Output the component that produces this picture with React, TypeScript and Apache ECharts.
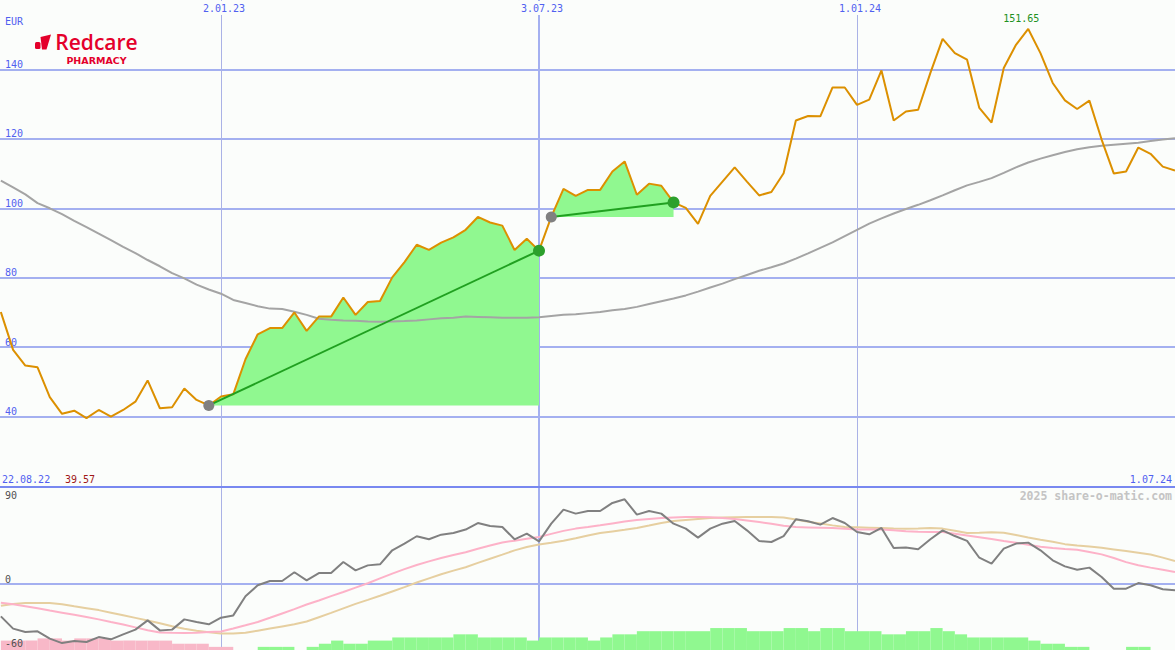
import React, { useEffect, useRef } from 'react';
import * as echarts from 'echarts';

// ---------- data (weekly, first value = 29.08.22, last = 1.07.24) ----------
const firstWeek = '2022-08-29';

const price = [
  70.1, 59.2, 54.7, 54.2, 45.6, 40.8, 41.7, 39.57, 41.9, 40.0, 41.9, 44.3, 50.4, 42.4, 42.7, 48.1, 44.8, 43.2,
  45.8, 46.4, 56.5, 63.7, 65.5, 65.5, 70.0, 64.7, 68.8, 68.8,
  74.3, 69.3, 73.0, 73.3, 80.1, 84.5, 89.5, 88.0, 90.1, 91.6,
  93.8, 97.5, 95.9, 95.0, 88.0, 91.2, 87.8, 97.5, 105.6, 103.6,
  105.3, 105.3, 110.6, 113.5, 103.9, 107.1, 106.5, 101.7, 100.1, 95.5,
  103.6, 107.7, 111.8, 107.7, 103.7, 104.7, 110.1, 125.3, 126.6, 126.5,
  134.8, 134.8, 129.8, 131.3, 139.7, 125.3, 127.9, 128.4, 139.0, 148.8,
  144.7, 142.8, 128.9, 124.7, 140.4, 147.1, 151.65, 144.7, 136.1, 131.1,
  128.6, 131.0, 119.8, 110.0, 110.6, 117.5, 115.7, 112.0, 110.9,
];

const movingAvg = [
  108, 106, 104, 101.5, 100, 98.3, 96.4, 94.6, 92.7, 90.8, 88.9, 87.1, 85.1, 83.3, 81.3, 79.8, 78.0, 76.6,
  75.4, 73.6, 72.7, 71.8, 71.1, 71.0, 70.2, 69.3, 68.2, 67.9,
  67.7, 67.6, 67.4, 67.3, 67.4, 67.5, 67.7, 68.0, 68.3, 68.5,
  68.8, 68.7, 68.6, 68.5, 68.5, 68.5, 68.6, 69.0, 69.3, 69.5,
  69.8, 70.1, 70.6, 71.0, 71.6, 72.4, 73.2, 74.0, 74.9, 76.0,
  77.2, 78.3, 79.6, 80.8, 82.0, 83.0, 84.1, 85.5, 87.0, 88.6,
  90.2, 92.0, 93.8, 95.6, 97.1, 98.5, 99.8, 101.0, 102.3, 103.7,
  105.2, 106.6, 107.6, 108.7, 110.2, 111.8, 113.2, 114.3, 115.3, 116.2,
  117.0, 117.6, 118.0, 118.3, 118.6, 118.9, 119.4, 119.8, 120.2,
];

const oscGray = [
  -30, -41.4, -44.5, -43.9, -50.7, -54.8, -52.9, -53.8, -49.2, -51.3, -46.7, -42.3, -33.7, -43, -42.3, -32.8, -35.3, -37.4,
  -31.2, -29.1, -11.4, -1.2, 2.8, 2.8, 10.9, 3.4, 10.2, 10.2,
  20.4, 12.7, 17.3, 18.3, 31.3, 37.5, 44.3, 41.5, 45.8, 47.3,
  50.5, 56.6, 53.8, 52.9, 41.5, 46.8, 39.6, 56.0, 69.0, 65.3,
  67.7, 67.7, 75.2, 78.6, 64.4, 67.7, 65.3, 56.0, 51.4, 43.0,
  51.4, 56.0, 58.4, 49.8, 39.9, 39.0, 44.5, 60.0, 58.2, 55.1,
  61.2, 56.6, 48.2, 46.1, 52.0, 33.4, 33.8, 32.2, 41.5, 49.8,
  44.5, 40.0, 24.4, 18.9, 32.8, 37.5, 38.4, 31.3, 22.0, 16.4,
  13.3, 15.2, 6.5, -4.3, -4.3, 0.9, -1.2, -4.9, -5.8,
];

const oscPink = [
  -17.3, -18.8, -20.6, -22.5, -24.6, -26.6, -28.6, -30.6, -32.8, -35.3, -37.6, -40.2, -42.8, -45.0, -45.3, -45.4, -45.2, -44.6,
  -44.0, -41.3, -38.3, -35.2, -31.3, -27.3, -23.3, -19.0, -15.3, -11.2,
  -7.4, -3.3, 0.7, 5.2, 9.7, 13.8, 17.6, 21.0, 24.2, 27.0,
  29.5, 32.7, 35.8, 38.6, 40.2, 42.0, 43.6, 46.5, 49.3, 51.4,
  52.9, 54.5, 56.2, 57.9, 59.3, 60.3, 61.3, 61.8, 62.1, 62.2,
  61.9, 61.2, 60.4, 59.0, 57.5, 56.0, 54.0, 52.8, 52.5, 52.2,
  51.9, 51.3, 50.5, 50.5, 50.5, 49.8, 48.9, 48.5, 48.3, 48.2,
  46.7, 45.1, 43.4, 41.7, 39.9, 38.2, 36.4, 34.6, 33.5, 32.5,
  31.7, 29.8, 27.5, 24.2, 20.3, 17.4, 15.2, 13.2, 11.2,
];

const oscTan = [
  -20.2, -18.5, -17.6, -17.6, -17.6, -18.8, -20.7, -22.4, -24.2, -26.6, -29.0, -31.4, -33.9, -36.4, -39.1, -41.5, -43.3, -44.8,
  -46.0, -45.8, -45.3, -43.3, -41.3, -39.3, -37.3, -34.8, -30.8, -26.8,
  -22.6, -18.4, -14.7, -10.9, -6.9, -2.9, 1.4, 5.2, 9.0, 12.4,
  15.6, 19.6, 23.5, 27.3, 31.2, 34.3, 36.6, 38.3, 40.1, 42.4,
  45.0, 47.3, 48.8, 50.3, 51.9, 54.2, 56.6, 58.4, 59.5, 60.4,
  61.3, 61.8, 62.0, 62.1, 62.2, 62.2, 61.7, 59.8, 57.8, 56.1,
  54.4, 52.8, 52.6, 52.3, 52.0, 51.6, 51.3, 51.5, 52.0, 51.4,
  49.5, 47.3, 47.6, 48.0, 47.6, 45.4, 43.2, 41.1, 39.3, 37.0,
  35.8, 34.7, 33.6, 32.1, 30.6, 29.1, 27.4, 24.5, 21.4,
];

// weekly histogram (negative = pink, positive = green), one bar per week after each date
const histogram = [
  -3, -3, -3, -3.7, -3.7, -3, -3.7, -3.7, -3.7, -3, -3, -3, -3, -3, -2, -2, -2, -1,
  -1, 0, 0, 1, 1, 1, 0, 1, 2, 3,
  2, 2, 3, 3, 4, 4, 4, 4, 4, 5,
  5, 4, 4, 4, 4, 3, 4, 4, 4, 4,
  3, 4, 5, 5, 6, 6, 6, 6, 6, 6,
  7, 7, 7, 6, 6, 6, 7, 7, 6, 7,
  7, 6, 6, 6, 5, 5, 6, 6, 7, 6,
  5, 4, 4, 4, 4, 4, 3, 2, 2, 1,
  1, 0, 0, 0, 1, 1, 0, 0, 0,
];

// trend segments (start date, end date)
const trendSegments = [
  ['2022-12-26', '2023-07-03'],
  ['2023-07-10', '2023-09-18'],
];

const dateTicks = ['2023-01-02', '2023-07-03', '2024-01-01'];
const thinDateLines = ['2023-01-02', '2024-01-01'];
const thickDateLines = ['2023-07-03'];
const priceTicks = [40, 60, 80, 100, 120, 140];
const oscTicks = [-60, 0];
const oscZeroLine = [0];
const oscTopTick = [90];
const rangeStartLabel = '22.08.22';
const rangeEndLabel = '1.07.24';
const minLabel = '39.57';
const watermark = '2025 share-o-matic.com';

// ---------- helpers ----------
const DAY = 86400000;
const ts = (s: string) => Date.parse(s + 'T00:00:00Z');
const dates = price.map((_, i) => ts(firstWeek) + i * 7 * DAY);
const idxOf = (s: string) => dates.indexOf(ts(s));
const fmtDate = (v: number) => {
  const d = new Date(v);
  return `${d.getUTCDate()}.${String(d.getUTCMonth() + 1).padStart(2, '0')}.${String(d.getUTCFullYear()).slice(2)}`;
};

const BG = '#fbfdfb';
const BLUE_TXT = '#5060f0';
const GRID_LINE = '#a4b0f0';
const THIN_LINE = '#aab2e6';
const DIVIDER = '#7888f0';
const RED = '#e4002b';
const MONO = '"DejaVu Sans Mono", "Liberation Mono", monospace';

const X_MIN = Date.UTC(2022, 7, 28, 12);
const X_MAX = Date.UTC(2024, 6, 1);
const OSC_MIN = -61.2;
const OSC_MAX = 90;

export default function App() {
  const ref = useRef<HTMLDivElement>(null);

  useEffect(() => {
    if (!ref.current) return;
    const chart = echarts.init(ref.current, null, { renderer: 'svg' });

    const pair = (arr: number[]) => arr.map((v, i) => [dates[i], v]);

    const baseX: any = {
      type: 'value',
      min: X_MIN,
      max: X_MAX,
      axisLine: { show: false, onZero: false },
      axisTick: { show: false },
      axisLabel: { show: false },
      splitLine: { show: false },
    };

    const oscAxis = (extra: any) => ({
      gridIndex: 1,
      type: 'value',
      position: 'left',
      min: OSC_MIN,
      max: OSC_MAX,
      axisLine: { show: false },
      splitLine: { show: false },
      ...extra,
    });

    const oscLabel = (values: number[], align: string, pad: number[]) => ({
      inside: true,
      customValues: values,
      verticalAlign: align,
      padding: pad,
      margin: 5,
      color: '#505050',
      fontFamily: MONO,
      fontSize: 10,
    });

    const fills = trendSegments.map(([a, b]) => {
      const i0 = idxOf(a);
      const i1 = idxOf(b);
      return {
        type: 'line',
        xAxisIndex: 0,
        yAxisIndex: 0,
        data: pair(price).slice(i0, i1 + 1),
        showSymbol: false,
        silent: true,
        lineStyle: { width: 0 },
        areaStyle: { color: '#90f890', opacity: 1, origin: price[i0] },
        z: 2,
      };
    });

    const trends = trendSegments.map(([a, b]) => {
      const i0 = idxOf(a);
      const i1 = idxOf(b);
      return {
        type: 'line',
        xAxisIndex: 0,
        yAxisIndex: 0,
        silent: true,
        symbol: 'circle',
        showSymbol: true,
        lineStyle: { color: '#20a020', width: 2 },
        data: [
          { value: [dates[i0], price[i0]], symbolSize: 11, itemStyle: { color: '#808080' } },
          { value: [dates[i1], price[i1]], symbolSize: 12, itemStyle: { color: '#2ca02c' } },
        ],
        z: 6,
      };
    });

    const option: any = {
      animation: false,
      backgroundColor: BG,
      grid: [
        { left: 0, right: 0, top: 0, height: 486, outerBoundsMode: 'none' },
        { left: 0, right: 0, top: 487, height: 163, outerBoundsMode: 'none' },
      ],
      xAxis: [
        {
          ...baseX,
          gridIndex: 0,
          position: 'top',
          axisTick: { show: false, customValues: thinDateLines.map(ts) },
          axisLabel: {
            show: true,
            inside: true,
            customValues: dateTicks.map(ts),
            formatter: (v: number) => fmtDate(v),
            color: BLUE_TXT,
            fontFamily: MONO,
            fontSize: 10,
            margin: 1,
            backgroundColor: BG,
            padding: [2, 1, 2, 7],
          },
          splitLine: { show: true, lineStyle: { color: THIN_LINE, width: 1 } },
        },
        {
          ...baseX,
          gridIndex: 0,
          position: 'bottom',
          axisTick: { show: false, customValues: thickDateLines.map(ts) },
          splitLine: { show: true, lineStyle: { color: GRID_LINE, width: 2 } },
        },
        {
          ...baseX,
          gridIndex: 1,
          position: 'top',
          axisLine: { show: true, onZero: false, lineStyle: { color: DIVIDER, width: 2 } },
          axisTick: { show: false, customValues: thinDateLines.map(ts) },
          splitLine: { show: true, lineStyle: { color: THIN_LINE, width: 1 } },
        },
        {
          ...baseX,
          gridIndex: 1,
          position: 'bottom',
          axisTick: { show: false, customValues: thickDateLines.map(ts) },
          splitLine: { show: true, lineStyle: { color: GRID_LINE, width: 2 } },
        },
      ],
      yAxis: [
        {
          gridIndex: 0,
          type: 'value',
          position: 'left',
          min: 20,
          max: 160,
          interval: 20,
          axisLine: { show: false },
          axisTick: { show: false, customValues: priceTicks },
          axisLabel: {
            inside: true,
            customValues: priceTicks,
            verticalAlign: 'bottom',
            margin: 5,
            color: BLUE_TXT,
            fontFamily: MONO,
            fontSize: 10,
          },
          splitLine: { show: true, lineStyle: { color: GRID_LINE, width: 2 } },
        },
        // zero line of the oscillator panel
        oscAxis({
          axisTick: { show: false, customValues: oscZeroLine },
          axisLabel: { show: false },
          splitLine: { show: true, lineStyle: { color: GRID_LINE, width: 2 } },
        }),
        // labels below the panel top
        oscAxis({
          z: 10,
          axisTick: { show: false, customValues: oscTopTick },
          axisLabel: oscLabel(oscTopTick, 'top', [3, 0, 0, 0]),
        }),
        // labels above their lines
        oscAxis({
          z: 10,
          axisTick: { show: false, customValues: oscTicks },
          axisLabel: oscLabel(oscTicks, 'bottom', [0, 0, 0, 0]),
        }),
        { gridIndex: 1, type: 'value', position: 'right', min: 0, max: 52, show: false, splitLine: { show: false } },
      ],
      series: [
        ...fills,
        {
          type: 'line',
          xAxisIndex: 0,
          yAxisIndex: 0,
          data: pair(movingAvg),
          showSymbol: false,
          silent: true,
          lineStyle: { color: '#a4a4a4', width: 2 },
          z: 3,
        },
        {
          type: 'line',
          xAxisIndex: 0,
          yAxisIndex: 0,
          data: pair(price),
          showSymbol: false,
          silent: true,
          lineStyle: { color: '#dc9000', width: 2 },
          z: 4,
          markPoint: {
            silent: true,
            symbol: 'circle',
            symbolSize: 1,
            itemStyle: { color: 'rgba(0,0,0,0)' },
            label: {
              show: true,
              position: 'top',
              distance: 5,
              offset: [-7, 0],
              formatter: (p: any) => Number(p.value).toFixed(2),
              color: '#209020',
              fontFamily: MONO,
              fontSize: 10,
            },
            data: [{ type: 'max' }],
          },
        },
        ...trends,
        {
          type: 'bar',
          xAxisIndex: 2,
          yAxisIndex: 4,
          silent: true,
          barWidth: '100%',
          data: histogram.map((v, i) => ({
            value: [dates[i] + 3.5 * DAY, Math.abs(v)],
            itemStyle: { color: v < 0 ? '#f8b8c8' : '#90f890' },
          })),
          z: 1,
        },
        {
          type: 'line',
          xAxisIndex: 2,
          yAxisIndex: 1,
          data: pair(oscTan),
          showSymbol: false,
          silent: true,
          lineStyle: { color: '#e6cfa0', width: 2 },
          z: 3,
        },
        {
          type: 'line',
          xAxisIndex: 2,
          yAxisIndex: 1,
          data: pair(oscPink),
          showSymbol: false,
          silent: true,
          lineStyle: { color: '#fdb2c8', width: 2 },
          z: 4,
        },
        {
          type: 'line',
          xAxisIndex: 2,
          yAxisIndex: 1,
          data: pair(oscGray),
          showSymbol: false,
          silent: true,
          lineStyle: { color: '#808080', width: 2 },
          z: 5,
        },
      ],
      graphic: [
        {
          type: 'text',
          x: 5,
          y: 21,
          style: { text: 'EUR', fill: BLUE_TXT, font: `10px ${MONO}`, textVerticalAlign: 'middle' },
        },
        {
          type: 'rect',
          shape: { x: 35, y: 42, width: 5.5, height: 7, r: 1.5 },
          style: { fill: RED },
        },
        {
          type: 'polygon',
          shape: { points: [[40.5, 37], [51, 34.5], [46.5, 49.5], [42, 49.5]] },
          style: { fill: RED },
        },
        {
          type: 'text',
          x: 96.5,
          y: 29.5,
          style: {
            text: '{a|Redcare}\n{b|PHARMACY}',
            textAlign: 'center',
            textVerticalAlign: 'top',
            rich: {
              a: {
                fill: RED,
                fontSize: 21,
                fontWeight: 600,
                fontFamily: '"Open Sans", "Noto Sans", sans-serif',
                lineHeight: 25,
              },
              b: {
                fill: RED,
                fontSize: 9.5,
                fontWeight: 'bold',
                fontFamily: '"DejaVu Sans", sans-serif',
                lineHeight: 11,
              },
            },
          },
        },
        {
          type: 'text',
          x: 2,
          y: 479,
          style: { text: rangeStartLabel, fill: BLUE_TXT, font: `10px ${MONO}`, textVerticalAlign: 'middle' },
        },
        {
          type: 'text',
          x: 65,
          y: 479,
          style: { text: minLabel, fill: '#a01818', font: `10px ${MONO}`, textVerticalAlign: 'middle' },
        },
        {
          type: 'text',
          x: 1172,
          y: 479,
          style: {
            text: rangeEndLabel,
            fill: BLUE_TXT,
            font: `10px ${MONO}`,
            textAlign: 'right',
            textVerticalAlign: 'middle',
          },
        },
        {
          type: 'text',
          x: 1172,
          y: 496,
          style: {
            text: watermark,
            fill: '#c4c4c4',
            font: `bold 11.5px ${MONO}`,
            textAlign: 'right',
            textVerticalAlign: 'middle',
          },
        },
      ],
    };

    chart.setOption(option);
    return () => chart.dispose();
  }, []);

  return (
    <div
      ref={ref}
      style={{ position: 'fixed', left: 0, top: 0, width: 1175, height: 650, background: BG }}
    />
  );
}
